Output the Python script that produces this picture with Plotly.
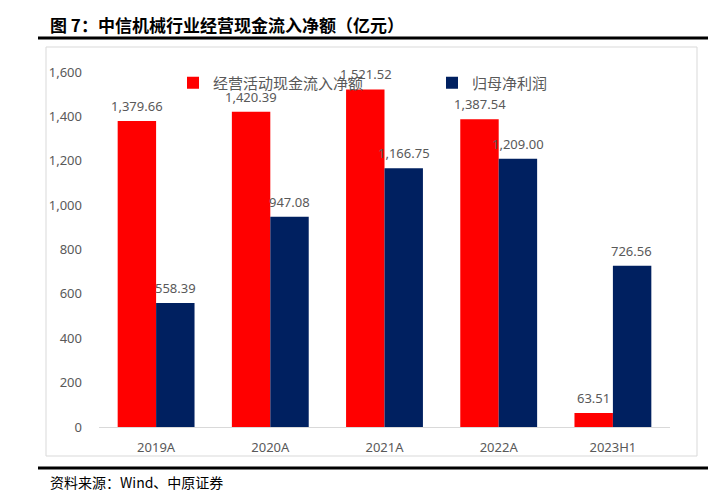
import plotly.graph_objects as go

categories = ["2019A", "2020A", "2021A", "2022A", "2023H1"]
cash_inflow = [1379.66, 1420.39, 1521.52, 1387.54, 63.51]
net_profit = [558.39, 947.08, 1166.75, 1209.00, 726.56]
series_names = ["经营活动现金流入净额", "归母净利润"]
y_ticks = [0, 200, 400, 600, 800, 1000, 1200, 1400, 1600]

RED = "#FF0000"
NAVY = "#002060"
GRAY = "#595959"
FONT = "Noto Sans, Noto Sans CJK SC, sans-serif"

OFF = 8  # page body margin
W, H = 712, 483
L, R, T, B = 91, 50, 64, 64
pw, ph = W - L - R, H - T - B


def px(x):
    return (x - OFF - L) / pw


def py(y):
    return (H - B - (y - OFF)) / ph


fig = go.Figure()
fig.add_trace(go.Bar(x=categories, y=cash_inflow, name=series_names[0], legend="legend",
                     marker=dict(color=RED, line=dict(width=0))))
fig.add_trace(go.Bar(x=categories, y=net_profit, name=series_names[1], legend="legend2",
                     marker=dict(color=NAVY, line=dict(width=0))))

annotations = []
for vals, shift in ((cash_inflow, -19), (net_profit, 19)):
    for c, v in zip(categories, vals):
        annotations.append(dict(x=c, y=v, xref="x", yref="y", text=f"{v:,.2f}",
                                showarrow=False, xshift=shift, yshift=4,
                                yanchor="bottom", xanchor="center",
                                font=dict(size=13, color=GRAY, family=FONT)))

annotations.append(dict(x=px(48), y=py(25), xref="paper", yref="paper",
                        text="<b>图 7：中信机械行业经营现金流入净额（亿元）</b>",
                        showarrow=False, xanchor="left", yanchor="middle",
                        font=dict(size=17, color="#000000", family="Noto Sans CJK SC")))
annotations.append(dict(x=px(48), y=py(482), xref="paper", yref="paper",
                        text="资料来源：Wind、中原证券",
                        showarrow=False, xanchor="left", yanchor="middle",
                        font=dict(size=14, color="#000000", family="Noto Sans CJK SC")))

shapes = [
    dict(type="rect", xref="paper", yref="paper", x0=px(46), x1=px(697),
         y0=py(456), y1=py(47), line=dict(color="#D9D9D9", width=1), layer="below"),
    dict(type="line", xref="paper", yref="paper", x0=px(38), x1=px(708),
         y0=py(38), y1=py(38), line=dict(color="#000000", width=3)),
    dict(type="line", xref="paper", yref="paper", x0=px(38), x1=px(708),
         y0=py(468), y1=py(468), line=dict(color="#000000", width=3)),
]

legend_common = dict(orientation="h", xanchor="left", yanchor="middle",
                     font=dict(size=15, color=GRAY, family="Noto Sans CJK SC"),
                     bgcolor="rgba(0,0,0,0)", itemwidth=30)

fig.update_layout(
    width=W, height=H,
    margin=dict(l=L, r=R, t=T, b=B),
    paper_bgcolor="white", plot_bgcolor="white",
    barmode="group", bargap=0.327, bargroupgap=0,
    font=dict(family=FONT, color=GRAY, size=13),
    showlegend=True,
    legend=dict(x=px(173), y=py(83), **legend_common),
    legend2=dict(x=px(432), y=py(83), **legend_common),
    annotations=annotations,
    shapes=shapes,
    xaxis=dict(showline=True, linecolor="#D9D9D9", linewidth=1, ticks="",
               showgrid=False, ticklabelstandoff=8, tickfont=dict(size=13, color=GRAY)),
    yaxis=dict(range=[0, 1600], tickvals=y_ticks, tickformat=",", showgrid=False,
               zeroline=False, showline=False, ticks="", ticklabelstandoff=16,
               tickfont=dict(size=13, color=GRAY)),
)

fig.write_html("out.html")
